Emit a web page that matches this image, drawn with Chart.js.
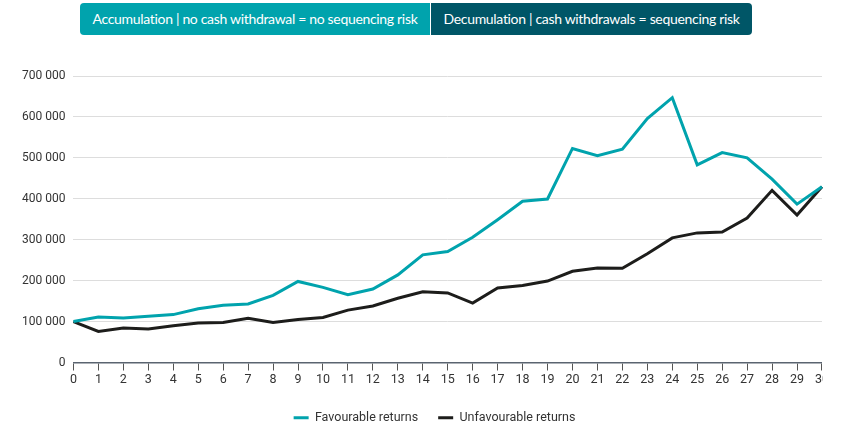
<!DOCTYPE html>
<html>
<head>
<meta charset="utf-8">
<script src="https://cdn.jsdelivr.net/npm/chart.js@4"></script>
<style>
  html, body { margin: 0; padding: 0; background: #fff; width: 848px; height: 429px; overflow: hidden; }
  .tabs { position: absolute; left: 80px; top: 3px; height: 32px; display: flex; font-family: Lato, "Open Sans", sans-serif; font-size: 14px; letter-spacing: -0.32px; color: #fff; white-space: nowrap; }
  .tab { height: 32px; line-height: 32px; box-sizing: border-box; text-align: center; overflow: hidden; }
  .tab1 { background: #00A3AD; width: 350px; border-radius: 4px 0 0 4px; }
  .tab2 { background: #005667; width: 321px; border-radius: 0 4px 4px 0; margin-left: 1px; }
  .wrap { position: absolute; left: 0; top: 51px; width: 823px; height: 381px; overflow: hidden; }
  .inner { position: relative; width: 831px; height: 381px; }
</style>
</head>
<body>
<div class="tabs">
  <div class="tab tab1">Accumulation | no cash withdrawal = no sequencing risk</div>
  <div class="tab tab2">Decumulation | cash withdrawals = sequencing risk</div>
</div>
<div class="wrap"><div class="inner"><canvas id="c"></canvas></div></div>
<script>
const years = ["0","1","2","3","4","5","6","7","8","9","10","11","12","13","14","15","16","17","18","19","20","21","22","23","24","25","26","27","28","29","30"];
const favourable = [100000,111000,109000,113000,117000,131500,140000,143000,164000,198000,183500,165700,179500,214000,263000,271000,306000,349000,394000,399500,523000,505000,521000,596000,647000,483000,513000,500000,448000,387000,429600];
const unfavourable = [100000,76000,84500,82000,90000,96600,97500,108000,97500,105000,110000,128000,138000,157000,173000,170000,145000,182000,188000,199000,223000,231000,230000,265500,304500,316700,319000,353000,420600,360500,429600];
const seriesNames = ["Favourable returns","Unfavourable returns"];
const yTicksMax = 700000;
const yStep = 100000;

const teal = "#00A3AD";
const dark = "#1d1d1b";

const legendShift = {
  id: "legendShift",
  afterLayout(chart) {
    chart.legend.top += 2;
    chart.legend.bottom += 2;
    chart.legend.left += 12;
    chart.legend.right += 12;
  }
};

new Chart(document.getElementById("c"), {
  type: "line",
  data: {
    labels: years,
    datasets: [
      { label: seriesNames[0], data: favourable, borderColor: teal, backgroundColor: teal, borderWidth: 3, pointRadius: 0, tension: 0 },
      { label: seriesNames[1], data: unfavourable, borderColor: dark, backgroundColor: dark, borderWidth: 3, pointRadius: 0, tension: 0 }
    ]
  },
  plugins: [legendShift],
  options: {
    responsive: true,
    maintainAspectRatio: false,
    animation: false,
    layout: { padding: { top: 25, left: 14, right: 0, bottom: 0 } },
    plugins: {
      tooltip: { enabled: false },
      legend: {
        position: "bottom",
        labels: {
          font: { family: "Roboto", size: 12.5 },
          color: "#333",
          boxWidth: 15,
          boxHeight: 3,
          padding: 20,
          generateLabels(chart) {
            const items = Chart.defaults.plugins.legend.labels.generateLabels(chart);
            items.forEach(i => { i.lineWidth = 0; });
            return items;
          }
        }
      }
    },
    scales: {
      x: {
        grid: { display: true, drawOnChartArea: false, drawTicks: true, tickLength: 8, color: "#555" },
        border: { display: true, color: "#5a6470", width: 1.5 },
        ticks: { font: { family: "Roboto", size: 12.5 }, color: "#333", maxRotation: 0, autoSkip: false, padding: 2 }
      },
      y: {
        min: 0,
        max: yTicksMax,
        grid: { color: "#dddddd", drawTicks: false },
        border: { display: false },
        ticks: {
          stepSize: yStep,
          padding: 8,
          font: { family: "Roboto", size: 12 },
          color: "#333",
          callback: v => v.toString().replace(/\B(?=(\d{3})+(?!\d))/g, " ")
        }
      }
    }
  }
});
</script>
</body>
</html>
